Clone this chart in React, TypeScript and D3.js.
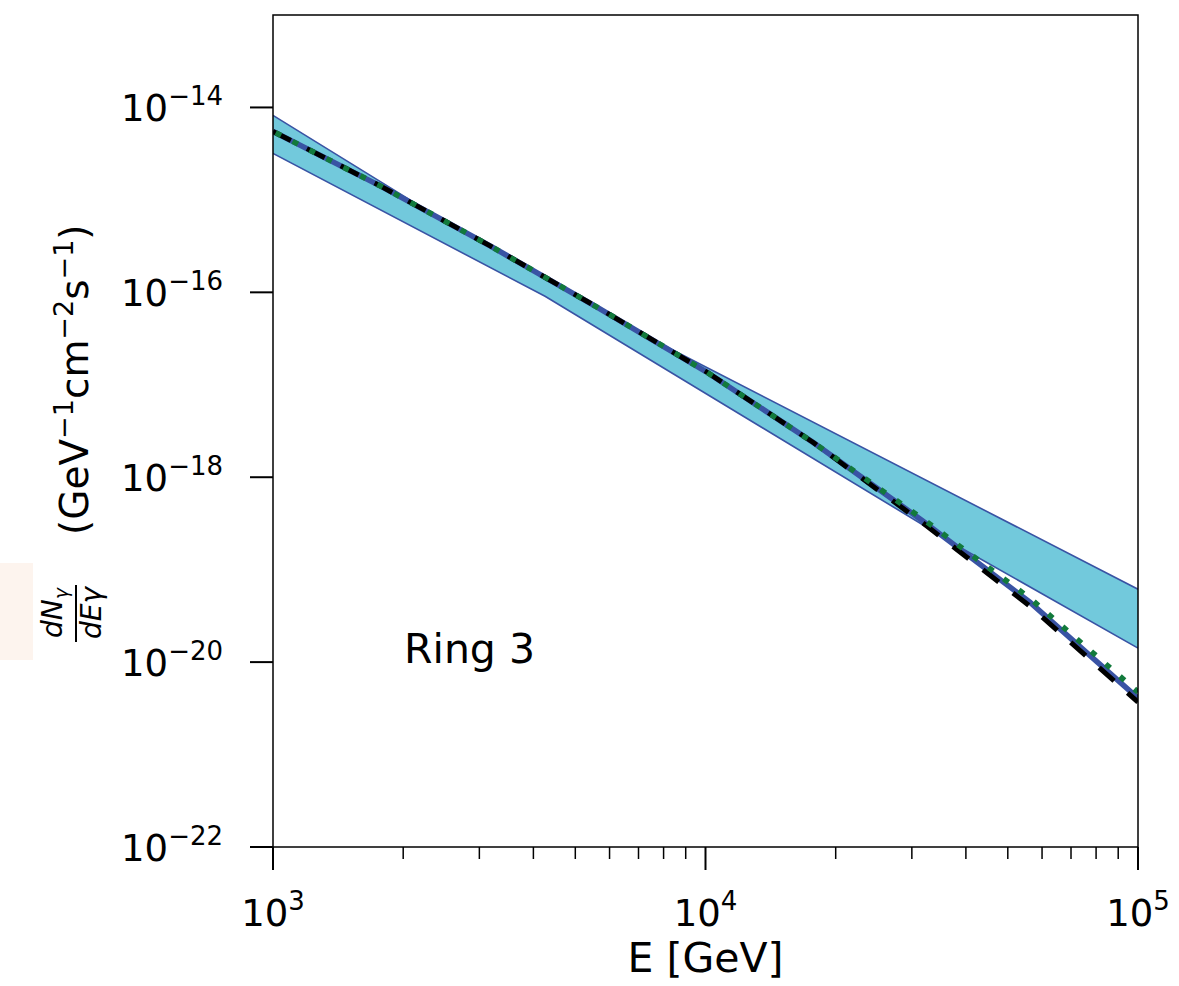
import React from "react";
import * as d3 from "d3";

// log10(E/GeV) and log10(flux) samples
const centerLogE = [3.0, 3.25, 3.5, 3.75, 4.0, 4.25, 4.5, 4.75, 5.0];
const centerLogF = [-14.259, -14.854, -15.492, -16.162, -16.854, -17.627, -18.465, -19.351, -20.389];
const dashedLogF = [-14.259, -14.854, -15.492, -16.162, -16.854, -17.627, -18.486, -19.395, -20.432];
const dottedLogF = [-14.259, -14.854, -15.492, -16.162, -16.854, -17.627, -18.443, -19.308, -20.324];

const upperLogE = [3.0, 3.386, 3.5, 3.75, 3.849, 5.0];
const upperLogF = [-14.086, -15.2, -15.492, -16.162, -16.443, -19.211];
const lowerLogE = [3.0, 3.629, 4.588, 5.0];
const lowerLogF = [-14.497, -16.043, -18.757, -19.849];

const xMajor = [3, 4, 5];
const yMajor = [-14, -16, -18, -20, -22];
const ringLabel = "Ring 3";

const W = 1179, H = 986;
const L = 273, R = 1138, T = 15, B = 847;
const FONT = "DejaVu Sans, sans-serif";

function interp(xs: number[], ys: number[], x: number) {
  for (let i = 0; i < xs.length - 1; i++) {
    if (x >= xs[i] && x <= xs[i + 1]) {
      const t = (x - xs[i]) / (xs[i + 1] - xs[i]);
      return ys[i] + t * (ys[i + 1] - ys[i]);
    }
  }
  return ys[ys.length - 1];
}

export default function App() {
  const x = d3.scaleLog().domain([1e3, 1e5]).range([L, R]);
  const y = d3.scaleLog().domain([1e-22, 1e-13]).range([B, T]);
  const p10 = (v: number) => Math.pow(10, v);

  const line = d3
    .line<[number, number]>()
    .x((d) => x(p10(d[0])))
    .y((d) => y(p10(d[1])));

  const centerPts = centerLogE.map((e, i) => [e, centerLogF[i]] as [number, number]);
  const dashedPts = centerLogE.map((e, i) => [e, dashedLogF[i]] as [number, number]);
  const dottedPts = centerLogE.map((e, i) => [e, dottedLogF[i]] as [number, number]);
  const upperPts = upperLogE.map((e, i) => [e, upperLogF[i]] as [number, number]);
  const lowerPts = lowerLogE.map((e, i) => [e, lowerLogF[i]] as [number, number]);

  const allE = Array.from(new Set([...upperLogE, ...lowerLogE])).sort((a, b) => a - b);
  const area = d3
    .area<number>()
    .x((e) => x(p10(e)))
    .y0((e) => y(p10(interp(lowerLogE, lowerLogF, e))))
    .y1((e) => y(p10(interp(upperLogE, upperLogF, e))));

  const minorX: number[] = [];
  for (const dec of [3, 4]) for (let k = 2; k <= 9; k++) minorX.push(k * Math.pow(10, dec));

  const blue = "#3953a4";

  return (
    <svg width={W} height={H} style={{ display: "block", position: "absolute", left: 0, top: 0 }}>
      <rect x={0} y={0} width={W} height={H} fill="#ffffff" />
      <rect x={0} y={563} width={33} height={97} fill="#fdf4ee" />
      <defs>
        <clipPath id="plotclip">
          <rect x={L} y={T} width={R - L} height={B - T} />
        </clipPath>
      </defs>
      <g clipPath="url(#plotclip)">
        <path d={area(allE) || ""} fill="#72c9dc" stroke="none" />
        <path d={line(upperPts) || ""} fill="none" stroke={blue} strokeWidth={1.6} />
        <path d={line(lowerPts) || ""} fill="none" stroke={blue} strokeWidth={1.6} />
        <path d={line(centerPts) || ""} fill="none" stroke={blue} strokeWidth={5.5} />
        <path d={line(dashedPts) || ""} fill="none" stroke="#000000" strokeWidth={5} strokeDasharray="20 18" />
        <path d={line(dottedPts) || ""} fill="none" stroke="#127a3c" strokeWidth={5.5} strokeDasharray="6 13" strokeDashoffset={-3} />
      </g>
      <rect x={L} y={T} width={R - L} height={B - T} fill="none" stroke="#000" strokeWidth={1.5} />

      {/* x ticks */}
      {xMajor.map((e) => (
        <g key={"xm" + e}>
          <line x1={x(p10(e))} x2={x(p10(e))} y1={B} y2={B + 23} stroke="#000" strokeWidth={2} />
          <text x={x(p10(e))} y={926} fontFamily={FONT} fontSize={37} textAnchor="middle" fill="#000">
            10<tspan fontSize={26} dy={-16}>{e}</tspan>
          </text>
        </g>
      ))}
      {minorX.map((v) => (
        <line key={"xn" + v} x1={x(v)} x2={x(v)} y1={B} y2={B + 12} stroke="#000" strokeWidth={1.5} />
      ))}

      {/* y ticks */}
      {yMajor.map((e) => (
        <g key={"ym" + e}>
          <line x1={L - 23} x2={L} y1={y(p10(e))} y2={y(p10(e))} stroke="#000" strokeWidth={2} />
          <text x={223} y={y(p10(e)) + 14} fontFamily={FONT} fontSize={37} textAnchor="end" fill="#000">
            10<tspan fontSize={26} dy={-16}>{"\u2212" + Math.abs(e)}</tspan>
          </text>
        </g>
      ))}

      {/* x label */}
      <text x={(L + R) / 2} y={972} fontFamily={FONT} fontSize={41} textAnchor="middle" fill="#000">
        E [GeV]
      </text>

      {/* ring label */}
      <text x={404} y={663} fontFamily={FONT} fontSize={41} fill="#000">
        {ringLabel}
      </text>

      {/* y label */}
      <g transform="rotate(-90)">
        <text x={-613} y={62} fontFamily={FONT} fontSize={28} fontStyle="italic" textAnchor="middle" fill="#000">
          dN<tspan fontSize={19} dy={6}>γ</tspan>
        </text>
        <line x1={-642} x2={-585} y1={76} y2={76} stroke="#000" strokeWidth={2} />
        <text x={-613} y={101} fontFamily={FONT} fontSize={28} fontStyle="italic" textAnchor="middle" fill="#000">
          dEγ
        </text>
        <text x={-535} y={88} fontFamily={FONT} fontSize={39} fill="#000">
          (GeV<tspan fontSize={27} dy={-15}>{"\u22121"}</tspan>
          <tspan dy={15}>cm</tspan>
          <tspan fontSize={27} dy={-15}>{"\u22122"}</tspan>
          <tspan dy={15}>s</tspan>
          <tspan fontSize={27} dy={-15}>{"\u22121"}</tspan>
          <tspan dy={15}>)</tspan>
        </text>
      </g>
    </svg>
  );
}
